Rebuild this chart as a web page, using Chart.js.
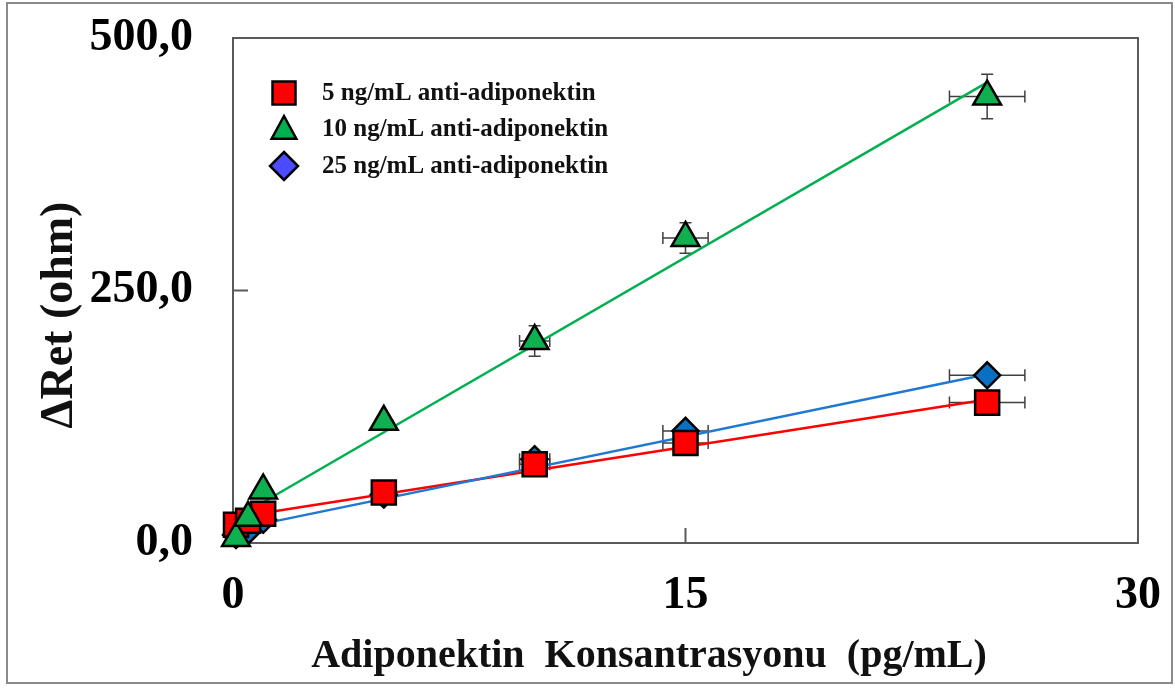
<!DOCTYPE html>
<html>
<head>
<meta charset="utf-8">
<title>Adiponektin Konsantrasyonu</title>
<script src="https://cdn.jsdelivr.net/npm/chart.js"></script>
<style>
  html, body { margin: 0; padding: 0; background: #fff; }
  #wrap { width: 1175px; height: 688px; }
</style>
</head>
<body>
<div id="wrap"><canvas id="myChart" width="1175" height="688"></canvas></div>
<script>
// Adiponectin concentration (pg/mL), same for the three series
var concentrations = [0.1, 0.5, 1, 5, 10, 15, 25];

// Delta Ret (ohm) for each anti-adiponectin amount
var ret5 = [18, 22, 29, 50, 78, 99, 139];
var ret10 = [5, 25, 52, 120, 200, 302, 442];
var ret25 = [8, 12, 23, 48, 83, 111, 166];

// Error bars (x in pg/mL, y in ohm)
var errX = [0, 0, 0, 0, 0.5, 0.75, 1.25];
var ret5ErrY = [0, 0, 0, 2, 3, 3, 4];
var ret10ErrY = [0, 0, 0, 3, 15, 15, 22];
var ret25ErrY = [0, 0, 0, 2, 3, 3, 4];

// Linear fit lines, start and end
var fitX = [0, 25];
var fit5 = [25, 142];
var fit10 = [23, 456];
var fit25 = [13, 167];

// Labels
var seriesNames = ["5 ng/mL anti-adiponektin", "10 ng/mL anti-adiponektin", "25 ng/mL anti-adiponektin"];
var yTickLabels = ["0,0", "250,0", "500,0"];
var xTickLabels = ["0", "15", "30"];
var xTitle = "Adiponektin  Konsantrasyonu  (pg/mL)";
var yTitle = "\u0394Ret (ohm)";

var SERIF = "'Liberation Serif', 'Times New Roman', serif";

// build {x, y} points from two arrays
function toPoints(xs, ys) {
  return xs.map(function (x, i) { return { x: x, y: ys[i] }; });
}

// draw one marker shape (used by the legend)
function drawMarker(ctx, style, x, y, r) {
  ctx.beginPath();
  if (style === "rect") {
    ctx.rect(x - r, y - r, 2 * r, 2 * r);
  } else if (style === "triangle") {
    ctx.moveTo(x, y - r);
    ctx.lineTo(x + r * 0.95, y + r * 0.75);
    ctx.lineTo(x - r * 0.95, y + r * 0.75);
    ctx.closePath();
  } else {
    ctx.moveTo(x, y - r);
    ctx.lineTo(x + r, y);
    ctx.lineTo(x, y + r);
    ctx.lineTo(x - r, y);
    ctx.closePath();
  }
  ctx.fill();
  ctx.stroke();
}

var errorSets = [
  { ys: ret25, errY: ret25ErrY },
  { ys: ret5, errY: ret5ErrY },
  { ys: ret10, errY: ret10ErrY }
];

var legendItems = [
  { style: "rect", color: "#ff0000", size: 11.5 },
  { style: "triangle", color: "#00b050", size: 13 },
  { style: "diamond", color: "#4b4bff", size: 14 }
];

var decorPlugin = {
  id: "decor",
  beforeDraw: function (chart) {
    var ctx = chart.ctx;
    ctx.save();
    ctx.fillStyle = "#fff";
    ctx.fillRect(0, 0, chart.width, chart.height);
    ctx.strokeStyle = "#8a8a8a";
    ctx.lineWidth = 2;
    ctx.strokeRect(7, 3, 1165, 680);
    ctx.restore();
  },
  beforeDatasetsDraw: function (chart) {
    var ctx = chart.ctx;
    var area = chart.chartArea;
    var xs = chart.scales.x;
    var ys = chart.scales.y;
    ctx.save();
    // plot frame
    ctx.strokeStyle = "#5a5a5a";
    ctx.lineWidth = 2;
    ctx.strokeRect(area.left, area.top, area.right - area.left, area.bottom - area.top);
    // inner ticks
    ctx.beginPath();
    ys.ticks.forEach(function (t, i) {
      if (i === 0 || i === ys.ticks.length - 1) return;
      var py = ys.getPixelForValue(t.value);
      ctx.moveTo(area.left, py);
      ctx.lineTo(area.left + 15, py);
    });
    xs.ticks.forEach(function (t, i) {
      if (i === 0 || i === xs.ticks.length - 1) return;
      var px = xs.getPixelForValue(t.value);
      ctx.moveTo(px, area.bottom);
      ctx.lineTo(px, area.bottom - 15);
    });
    ctx.stroke();
    // error bars
    ctx.strokeStyle = "#404040";
    ctx.lineWidth = 1.5;
    var cap = 6;
    errorSets.forEach(function (set) {
      concentrations.forEach(function (cx, i) {
        var px = xs.getPixelForValue(cx);
        var py = ys.getPixelForValue(set.ys[i]);
        ctx.beginPath();
        if (errX[i] > 0) {
          var x1 = xs.getPixelForValue(cx - errX[i]);
          var x2 = xs.getPixelForValue(cx + errX[i]);
          ctx.moveTo(x1, py); ctx.lineTo(x2, py);
          ctx.moveTo(x1, py - cap); ctx.lineTo(x1, py + cap);
          ctx.moveTo(x2, py - cap); ctx.lineTo(x2, py + cap);
        }
        if (set.errY[i] > 0) {
          var y1 = ys.getPixelForValue(set.ys[i] + set.errY[i]);
          var y2 = ys.getPixelForValue(set.ys[i] - set.errY[i]);
          ctx.moveTo(px, y1); ctx.lineTo(px, y2);
          ctx.moveTo(px - cap, y1); ctx.lineTo(px + cap, y1);
          ctx.moveTo(px - cap, y2); ctx.lineTo(px + cap, y2);
        }
        ctx.stroke();
      });
    });
    ctx.restore();
  },
  afterDraw: function (chart) {
    var ctx = chart.ctx;
    ctx.save();
    ctx.fillStyle = "#111";
    // axis titles
    ctx.font = "bold 40px " + SERIF;
    ctx.textAlign = "center";
    ctx.textBaseline = "middle";
    ctx.fillText(xTitle, 649, 657);
    ctx.save();
    ctx.translate(60, 315);
    ctx.rotate(-Math.PI / 2);
    ctx.font = "bold 46px " + SERIF;
    ctx.fillText(yTitle, 0, 0);
    ctx.restore();
    // legend
    ctx.font = "bold 25px " + SERIF;
    ctx.textAlign = "left";
    var rows = [93, 129, 166];
    legendItems.forEach(function (item, i) {
      ctx.fillStyle = item.color;
      ctx.strokeStyle = "#000";
      ctx.lineWidth = 2.5;
      drawMarker(ctx, item.style, 284, rows[i], item.size);
      ctx.fillStyle = "#111";
      ctx.fillText(seriesNames[i], 322, rows[i] + 1);
    });
    ctx.restore();
  }
};

// hidden grid, only used to push the tick labels away from the frame
function spacerGrid(len) {
  return { display: true, drawOnChartArea: false, drawTicks: true, tickLength: len, color: "rgba(0,0,0,0)" };
}

var ctx = document.getElementById("myChart").getContext("2d");
var myChart = new Chart(ctx, {
  type: "scatter",
  data: {
    datasets: [
      {
        label: seriesNames[2] + " fit", type: "line", data: toPoints(fitX, fit25),
        borderColor: "#1f78d2", borderWidth: 2.5, pointRadius: 0, fill: false, order: 5, clip: false
      },
      {
        label: seriesNames[0] + " fit", type: "line", data: toPoints(fitX, fit5),
        borderColor: "#ff0000", borderWidth: 2.5, pointRadius: 0, fill: false, order: 5, clip: false
      },
      {
        label: seriesNames[1] + " fit", type: "line", data: toPoints(fitX, fit10),
        borderColor: "#00b050", borderWidth: 2.5, pointRadius: 0, fill: false, order: 5, clip: false
      },
      {
        label: seriesNames[2], data: toPoints(concentrations, ret25),
        pointStyle: "rectRot", pointRadius: 13, backgroundColor: "#0a70c4",
        borderColor: "#000", borderWidth: 2.5, order: 3, clip: false
      },
      {
        label: seriesNames[0], data: toPoints(concentrations, ret5),
        pointStyle: "rect", pointRadius: 17, backgroundColor: "#ff0000",
        borderColor: "#000", borderWidth: 2.5, order: 2, clip: false
      },
      {
        label: seriesNames[1], data: toPoints(concentrations, ret10),
        pointStyle: "triangle", pointRadius: 16, backgroundColor: "#0fb04f",
        borderColor: "#000", borderWidth: 2.5, order: 1, clip: false
      }
    ]
  },
  options: {
    responsive: false,
    animation: false,
    layout: { padding: { left: 0, right: 37, top: 38, bottom: 0 } },
    plugins: {
      legend: { display: false },
      tooltip: { enabled: false }
    },
    scales: {
      x: {
        type: "linear",
        min: 0,
        max: 30,
        grid: spacerGrid(26),
        border: { display: false },
        afterFit: function (scale) { scale.height = 145; },
        ticks: {
          stepSize: 15,
          padding: 0,
          color: "#000",
          font: { family: SERIF, size: 46, weight: "bold" },
          callback: function (value, index) { return xTickLabels[index]; }
        }
      },
      y: {
        type: "linear",
        min: 0,
        max: 500,
        grid: spacerGrid(40),
        border: { display: false },
        afterFit: function (scale) { scale.width = 233; },
        ticks: {
          stepSize: 250,
          padding: 0,
          color: "#000",
          font: { family: SERIF, size: 46, weight: "bold" },
          callback: function (value, index) { return yTickLabels[index]; }
        }
      }
    }
  },
  plugins: [decorPlugin]
});
</script>
</body>
</html>
